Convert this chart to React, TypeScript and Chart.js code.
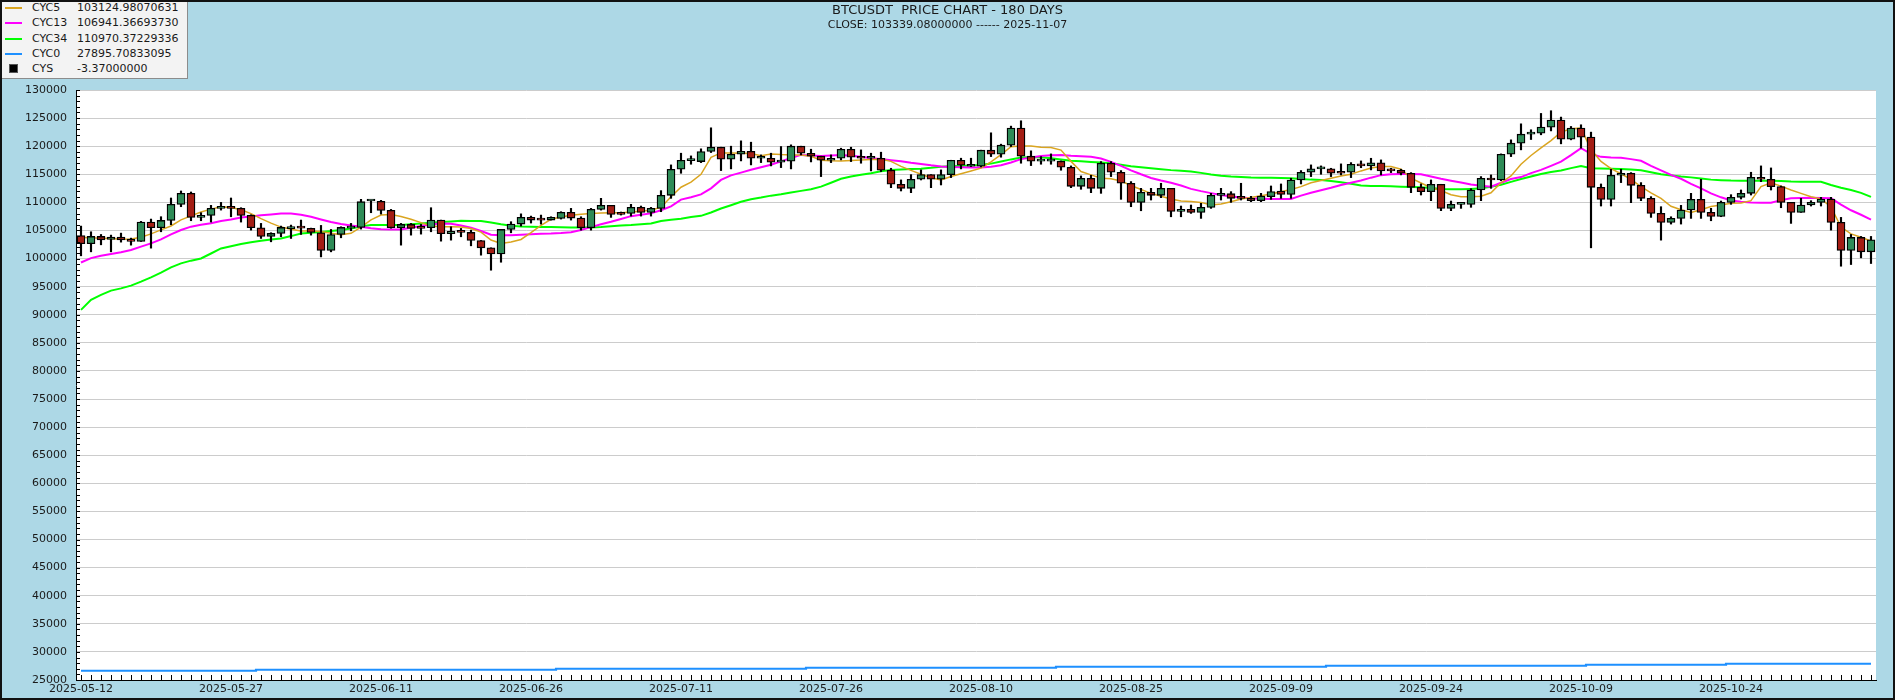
import React, { useEffect, useRef } from 'react';
import { Chart, registerables } from 'chart.js';

Chart.register(...registerables);

const TITLE = 'BTCUSDT  PRICE CHART - 180 DAYS';
const SUBTITLE = 'CLOSE: 103339.08000000 ------ 2025-11-07';

// x labels shown every LABEL_STEP days (index 0 = 2025-05-12)
const DATE_LABELS = ['2025-05-12', '2025-05-27', '2025-06-11', '2025-06-26', '2025-07-11', '2025-07-26', '2025-08-10', '2025-08-25', '2025-09-09', '2025-09-24', '2025-10-09', '2025-10-24'];
const LABEL_STEP = 15;

const Y_MIN = 25000;
const Y_MAX = 130000;
const Y_STEP = 5000;
const Y_MINOR_STEP = 1000;

const OPEN = [
  104110, 102630, 103940, 103400, 103820, 103460, 103045, 106495, 105480, 106790,
  109650, 111610, 107330, 107685, 108935, 109290, 108935, 107685, 105480, 103940,
  104470, 105300, 105720, 105370, 104590, 101440, 104290, 105430, 105540, 110250,
  110185, 108580, 105480, 106080, 105660, 105480, 106850, 104410, 104830, 104650,
  103220, 101915, 100840, 105185, 106140, 107330, 107030, 106850, 107150, 108220,
  107210, 105480, 108750, 109470, 108160, 108040, 109110, 108220, 108935, 111255,
  115895, 117420, 117265, 119050, 119820, 117680, 118570, 119100, 117860, 117860,
  117150, 117330, 120000, 118750, 118220, 117500, 117860, 119460, 118040, 117860,
  117860, 115720, 113220, 112500, 114110, 114940, 114110, 114940, 117500, 116430,
  116430, 119290, 118570, 120180, 123215, 118220, 117330, 117330, 117330, 116250,
  112860, 114290, 112500, 116970, 115360, 113400, 110000, 111790, 111255, 112500,
  108400, 108750, 108220, 109110, 111255, 111550, 110720, 110720, 110300, 111020,
  112030, 111430, 113990, 115360, 115960, 115960, 115360, 115360, 116790, 116490,
  117030, 115660, 115720, 115180, 112680, 111910, 113220, 108935, 109650, 109650,
  112210, 114290, 113990, 118570, 120540, 122140, 122320, 123390, 124640, 121250,
  123210, 121610, 112680, 110540, 114825, 115180, 113040, 110720, 108040, 106440,
  107150, 108640, 110540, 108220, 107510, 110000, 110900, 111610, 114470, 114110,
  112800, 110000, 108220, 109530, 110000, 110600, 106440, 101440, 103760, 101200,
];

const HIGH = [
  105780, 104770, 104290, 104175, 104530, 103640, 106620, 107030, 107450, 110780,
  112030, 111850, 108160, 109470, 110000, 110780, 109050, 107800, 106260, 104600,
  105780, 105960, 106850, 105420, 105900, 105185, 105660, 106260, 110540, 110300,
  110360, 108750, 106260, 106260, 106080, 109050, 106850, 105660, 105365, 105060,
  103220, 101915, 105185, 106560, 107960, 107560, 107740, 107440, 108340, 108935,
  107440, 108935, 110720, 109470, 108280, 109650, 109350, 109110, 112090, 116670,
  118750, 118270, 119530, 123270, 119820, 120000, 120950, 120710, 118450, 118750,
  119940, 120240, 120000, 119460, 118220, 118450, 119640, 119820, 119340, 118750,
  118930, 116070, 114000, 114940, 115780, 114940, 115780, 117500, 117860, 117860,
  119290, 122380, 120360, 123570, 124520, 119170, 118150, 118630, 117380, 116490,
  114710, 114830, 117260, 117260, 115660, 113700, 112500, 112500, 113400, 112500,
  109350, 109530, 109830, 111610, 112500, 111910, 113400, 111080, 111610, 112920,
  113280, 114290, 115660, 116670, 116490, 116070, 116850, 117080, 117380, 117850,
  117560, 116070, 115900, 115300, 113280, 113990, 113220, 110240, 109650, 112440,
  114590, 114890, 118630, 121130, 123980, 122920, 125830, 126310, 125180, 123510,
  123810, 122500, 113280, 115900, 115900, 115300, 113520, 111020, 109230, 107440,
  109470, 111610, 114110, 108940, 110240, 111370, 112210, 115360, 116490, 116130,
  112920, 110000, 110720, 110300, 110900, 110900, 107330, 104290, 103940, 103940,
];

const LOW = [
  100490, 101200, 102450, 101200, 102925, 102390, 103045, 101855, 104770, 106020,
  109230, 106735, 106735, 106495, 108630, 107440, 106495, 105060, 103580, 102985,
  103880, 103580, 104290, 104170, 100300, 101200, 103700, 104950, 105250, 108160,
  107920, 105400, 102390, 104170, 104350, 104770, 103100, 103280, 103880, 102270,
  100605, 97930, 99350, 104590, 105780, 106320, 106140, 106850, 107030, 106850,
  105060, 105060, 108630, 107330, 107740, 107560, 107560, 107560, 108340, 110720,
  115180, 116790, 117080, 118870, 115660, 115960, 117380, 116670, 117080, 116490,
  116190, 115960, 118450, 117200, 114590, 117080, 117560, 117260, 116970, 115600,
  115480, 112620, 112030, 111730, 113990, 112620, 113100, 114410, 115960, 116370,
  116310, 118150, 118040, 119940, 116970, 116550, 116790, 116790, 115720, 112620,
  112330, 111730, 111610, 114590, 110540, 109230, 108510, 110420, 110840, 107440,
  107440, 108040, 107150, 108935, 110420, 110000, 110420, 110120, 110120, 110540,
  110720, 110720, 113280, 114590, 115000, 114590, 114890, 114410, 116170, 115780,
  114890, 115300, 114890, 111730, 111310, 110300, 108520, 108520, 108935, 109120,
  110300, 112500, 113870, 118150, 119350, 121190, 122030, 122720, 120420, 121130,
  119640, 101915, 109350, 109350, 113520, 109950, 110300, 107330, 103280, 106140,
  106140, 107150, 107150, 106730, 107450, 109650, 110600, 111310, 113690, 112200,
  109050, 106260, 108220, 109350, 109350, 105060, 98640, 98940, 100130, 99120,
];

const CLOSE = [
  102630, 103940, 103340, 103820, 103340, 103045, 106495, 105480, 106790, 109650,
  111610, 107330, 107685, 108935, 109290, 108935, 107685, 105480, 103940, 104470,
  105540, 105700, 105420, 104650, 101440, 104290, 105540, 105720, 110125, 110300,
  108580, 105480, 106080, 105365, 105365, 106850, 104410, 104830, 104650, 103220,
  101915, 100840, 105185, 106140, 107330, 106850, 106850, 107330, 108220, 107210,
  105480, 108750, 109470, 107860, 107860, 109110, 108220, 108935, 111255, 115895,
  117500, 117560, 119050, 119820, 117680, 118570, 119100, 117860, 117900, 117150,
  117330, 120000, 118750, 118220, 117500, 117860, 119460, 118040, 117860, 117880,
  115720, 113220, 112500, 114110, 114940, 114110, 114940, 117500, 116610, 116730,
  119290, 118570, 120180, 123215, 118220, 117330, 117380, 117360, 116250, 112860,
  114290, 112500, 116970, 115360, 113400, 110000, 111790, 111255, 112500, 108400,
  108750, 108220, 109110, 111255, 111550, 110720, 110700, 110300, 111130, 111910,
  111430, 113990, 115360, 115960, 116020, 115180, 115180, 116790, 116490, 117030,
  115600, 115600, 115180, 112680, 111910, 113220, 108935, 109650, 109650, 112210,
  114290, 113990, 118570, 120540, 122140, 122320, 123390, 124640, 121250, 123210,
  121610, 112680, 110540, 114825, 115180, 113040, 110720, 108040, 106440, 107150,
  108640, 110540, 108220, 107510, 110000, 110900, 111610, 114470, 114110, 112800,
  110000, 108220, 109530, 110000, 110600, 106440, 101440, 103760, 101200, 103339,
];

const CYC5 = [
  103760, 103700, 103620, 103550, 103450, 103500, 103800, 104400, 105100, 105800,
  106900, 107600, 108300, 108800, 109200, 109100, 108700, 108000, 107100, 106300,
  105600, 105200, 104900, 104890, 104800, 104500, 104250, 104500, 105600, 106900,
  107740, 107860, 107500, 107000, 106400, 105800, 105660, 105660, 105600, 105360,
  104700, 103300, 102680, 102950, 103400, 104600, 105900, 107000, 107400, 107700,
  107900, 108040, 108120, 108160, 108160, 108300, 108400, 108630, 109100, 111000,
  112700, 113600, 115000, 118000, 118800, 118800, 118750, 118700, 118300, 118600,
  118500, 118450, 118450, 118200, 117500, 117400, 117380, 117450, 117550, 117650,
  117680, 117300, 116400, 115700, 115000, 114400, 114000, 114590, 115100, 115600,
  116100, 117200, 118500, 119900, 120050, 120050, 119800, 119760, 119300, 117300,
  115500, 114900, 114300, 114200, 113800, 113000, 112300, 111600, 111100, 110600,
  110250, 110150, 110000, 109550, 109700, 110100, 110600, 110850, 111200, 111490,
  111900, 112300, 112800, 113500, 113900, 114300, 114700, 115000, 115600, 116100,
  116370, 116370, 115900, 114300, 113450, 112600, 112100, 111350, 111020, 111020,
  111100, 111700, 113500, 114700, 116800, 118350, 119700, 121000, 122500, 123100,
  123210, 119400, 117300, 116000, 115100, 114100, 112800, 111700, 110700, 109300,
  108700, 108200, 108700, 109250, 109550, 109830, 109900, 110300, 112800, 113500,
  112900, 112200, 111600, 111000, 110600, 109200, 105600, 104400, 103800, 103125,
];

const CYC13 = [
  99300, 100080, 100500, 100820, 101110, 101520, 102120, 102710, 103420, 104310,
  105090, 105680, 106000, 106300, 106700, 106950, 107300, 107500, 107700, 107850,
  108000, 108000, 107800, 107440, 106950, 106500, 106140, 105900, 105660, 105400,
  105200, 105180, 105180, 105500, 105800, 106100, 106260, 106200, 105900, 105500,
  104900, 104250, 104170, 104170, 104250, 104330, 104400, 104450, 104550, 104700,
  105100, 105600, 106100, 106550, 107050, 107550, 107800, 108040, 108600, 109300,
  110500, 110900, 111430, 112500, 114000, 114800, 115300, 115800, 116250, 116700,
  117300, 117900, 118450, 118350, 118270, 118350, 118450, 118300, 118100, 117850,
  117700, 117500, 117300, 117050, 116850, 116600, 116400, 116300, 116250, 116220,
  116190, 116350, 116600, 117100, 117700, 118000, 118270, 118400, 118450, 118300,
  118200, 118100, 117800, 117200, 116500, 115700, 115000, 114350, 113900, 113500,
  113000, 112400, 112000, 111650, 111300, 111050, 110850, 110720, 110650, 110600,
  110600, 110600, 111200, 111700, 112150, 112600, 113100, 113500, 113900, 114400,
  114850, 115000, 115060, 115050, 115000, 114600, 114200, 113850, 113520, 113200,
  112950, 112800, 113500, 114170, 114500, 115200, 115780, 116500, 117260, 118400,
  119640, 118630, 118100, 117980, 117950, 117700, 117400, 116500, 115700, 114900,
  114200, 113300, 112500, 111600, 110900, 110350, 110100, 109960, 109950, 109950,
  110400, 110750, 110800, 110840, 110800, 110720, 109600, 108600, 107800, 106941,
];

const CYC34 = [
  90870, 92660, 93540, 94300, 94700, 95180, 95890, 96660, 97490, 98440,
  99150, 99630, 100010, 100900, 101800, 102200, 102600, 102900, 103160, 103400,
  103580, 104000, 104470, 104600, 104750, 104900, 105100, 105365, 105700, 105960,
  105960, 105960, 105960, 106100, 106260, 106380, 106490, 106600, 106730, 106700,
  106670, 106400, 106100, 105850, 105700, 105660, 105620, 105600, 105560, 105540,
  105540, 105540, 105600, 105750, 105880, 105960, 106100, 106260, 106700, 106900,
  107100, 107400, 107600, 108200, 108900, 109500, 110100, 110550, 110850, 111200,
  111450, 111750, 112050, 112350, 112800, 113500, 114200, 114600, 114900, 115200,
  115550, 115750, 115870, 115950, 116000, 116150, 116350, 116420, 116490, 116580,
  116670, 116900, 117260, 117650, 117980, 118020, 118040, 117850, 117650, 117420,
  117300, 117200, 117100, 116980, 116700, 116450, 116250, 116080, 115900, 115740,
  115620, 115500, 115250, 114950, 114750, 114600, 114500, 114420, 114400, 114380,
  114350, 114290, 114150, 114050, 113990, 113800, 113600, 113300, 113000, 112920,
  112920, 112880, 112800, 112740, 112680, 112550, 112400, 112350, 112330, 112400,
  112500, 112800, 113150, 113650, 114150, 114600, 115060, 115400, 115660, 116100,
  116490, 116070, 116030, 116000, 115960, 115850, 115700, 115350, 115000, 114800,
  114600, 114450, 114250, 114050, 113950, 113880, 113870, 113870, 113870, 113870,
  113800, 113700, 113690, 113690, 113660, 113100, 112600, 112200, 111700, 110970,
];

const CYC0 = [
  26650, 26650, 26650, 26650, 26650, 26650, 26650, 26650, 26650, 26650,
  26650, 26650, 26650, 26650, 26650, 26650, 26650, 26650, 26828, 26828,
  26828, 26828, 26828, 26828, 26828, 26828, 26828, 26828, 26828, 26828,
  26828, 26828, 26828, 26828, 26828, 26828, 26828, 26828, 26828, 26828,
  26828, 26828, 26828, 26828, 26828, 26828, 26828, 26828, 27006, 27006,
  27006, 27006, 27006, 27006, 27006, 27006, 27006, 27006, 27006, 27006,
  27006, 27006, 27006, 27006, 27006, 27006, 27006, 27006, 27006, 27006,
  27006, 27006, 27006, 27184, 27184, 27184, 27184, 27184, 27184, 27184,
  27184, 27184, 27184, 27184, 27184, 27184, 27184, 27184, 27184, 27184,
  27184, 27184, 27184, 27184, 27184, 27184, 27184, 27184, 27362, 27362,
  27362, 27362, 27362, 27362, 27362, 27362, 27362, 27362, 27362, 27362,
  27362, 27362, 27362, 27362, 27362, 27362, 27362, 27362, 27362, 27362,
  27362, 27362, 27362, 27362, 27362, 27540, 27540, 27540, 27540, 27540,
  27540, 27540, 27540, 27540, 27540, 27540, 27540, 27540, 27540, 27540,
  27540, 27540, 27540, 27540, 27540, 27540, 27540, 27540, 27540, 27540,
  27540, 27718, 27718, 27718, 27718, 27718, 27718, 27718, 27718, 27718,
  27718, 27718, 27718, 27718, 27718, 27896, 27896, 27896, 27896, 27896,
  27896, 27896, 27896, 27896, 27896, 27896, 27896, 27896, 27896, 27896,
];

const LEGEND_NAMES = ['CYC5', 'CYC13', 'CYC34', 'CYC0', 'CYS'];
const LEGEND_VALUES = ['103124.98070631', '106941.36693730', '110970.37229336', '27895.70833095', '-3.37000000'];

const COLORS = {
  bg: '#add8e6',
  cyc5: '#daa520',
  cyc13: '#ff00ff',
  cyc34: '#00ff00',
  cyc0: '#1e90ff',
  up: '#2e8b57',
  down: '#a31d14',
  grid: '#cccccc',
  text: '#1a1a1a',
};
const LEGEND_COLORS = [COLORS.cyc5, COLORS.cyc13, COLORS.cyc34, COLORS.cyc0, '#000000'];

const FONT = 'DejaVu Sans';

export default function App() {
  const ref = useRef<HTMLCanvasElement>(null);

  useEffect(() => {
    document.body.style.margin = '0';
    const idx = OPEN.map((_, i) => i);
    const toPts = (arr: number[]) => idx.map((i) => ({ x: i, y: arr[i] }));

    const bgPlugin = {
      id: 'bgPlugin',
      beforeDraw(chart: any) {
        const { ctx, chartArea } = chart;
        ctx.save();
        ctx.fillStyle = COLORS.bg;
        ctx.fillRect(0, 0, chart.width, chart.height);
        ctx.fillStyle = '#ffffff';
        ctx.fillRect(chartArea.left, chartArea.top, chartArea.right - chartArea.left, chartArea.bottom - chartArea.top);
        ctx.restore();
      },
      afterDraw(chart: any) {
        const { ctx, chartArea, scales } = chart;
        ctx.save();
        ctx.strokeStyle = '#000000';
        ctx.lineWidth = 1;
        ctx.beginPath();
        for (const i of idx) {
          const x = Math.round(scales.x.getPixelForValue(i)) + 0.5;
          ctx.moveTo(x, chartArea.bottom);
          ctx.lineTo(x, chartArea.bottom - 5);
        }
        for (let v = Y_MIN; v <= Y_MAX; v += Y_MINOR_STEP) {
          const y = Math.round(scales.y.getPixelForValue(v)) + 0.5;
          ctx.moveTo(chartArea.left, y);
          ctx.lineTo(chartArea.left + 4, y);
        }
        ctx.stroke();
        ctx.restore();
      },
    };

    const chart = new Chart(ref.current as HTMLCanvasElement, {
      type: 'bar',
      data: {
        datasets: [
          {
            type: 'line',
            label: 'CYC0',
            data: toPts(CYC0),
            borderColor: COLORS.cyc0,
            borderWidth: 2.2,
            pointRadius: 0,
            stepped: 'middle',
            order: 5,
          } as any,
          {
            type: 'line',
            label: 'CYC34',
            data: toPts(CYC34),
            borderColor: COLORS.cyc34,
            borderWidth: 2,
            pointRadius: 0,
            order: 4,
          } as any,
          {
            type: 'line',
            label: 'CYC13',
            data: toPts(CYC13),
            borderColor: COLORS.cyc13,
            borderWidth: 2,
            pointRadius: 0,
            order: 3,
          } as any,
          {
            type: 'line',
            label: 'CYC5',
            data: toPts(CYC5),
            borderColor: COLORS.cyc5,
            borderWidth: 1.5,
            pointRadius: 0,
            order: 2,
          } as any,
          {
            type: 'bar',
            label: 'wick',
            data: idx.map((i) => ({ x: i, y: [LOW[i], HIGH[i]] })),
            backgroundColor: '#000000',
            barThickness: 1.5,
            grouped: false,
            order: 1,
          } as any,
          {
            type: 'bar',
            label: 'body',
            data: idx.map((i) => ({ x: i, y: [OPEN[i], CLOSE[i]] })),
            backgroundColor: idx.map((i) => (CLOSE[i] >= OPEN[i] ? COLORS.up : COLORS.down)),
            borderColor: '#000000',
            borderWidth: 1.3,
            borderSkipped: false,
            barThickness: 8,
            minBarLength: 2,
            grouped: false,
            order: 0,
          } as any,
        ],
      },
      options: {
        animation: false,
        responsive: false,
        maintainAspectRatio: false,
        events: [],
        layout: { padding: { top: 90, right: 19, left: 0, bottom: 0 } },
        plugins: {
          legend: { display: false },
          tooltip: { enabled: false },
          title: { display: false },
        },
        scales: {
          x: {
            type: 'linear',
            min: -0.5,
            max: 179.5,
            offset: false,
            afterBuildTicks: (s: any) => {
              s.ticks = DATE_LABELS.map((_, k) => ({ value: k * LABEL_STEP }));
            },
            afterFit: (s: any) => {
              s.height = 20;
            },
            ticks: {
              autoSkip: false,
              maxRotation: 0,
              minRotation: 0,
              padding: 3,
              color: COLORS.text,
              font: { family: FONT, size: 11 },
              callback: (v: any) => DATE_LABELS[Math.round(Number(v) / LABEL_STEP)] ?? '',
            },
            grid: { drawOnChartArea: false, drawTicks: false, offset: false },
            border: { display: true, color: '#000000', width: 1 },
          },
          y: {
            type: 'linear',
            min: Y_MIN,
            max: Y_MAX,
            afterFit: (s: any) => {
              s.width = 76;
            },
            ticks: {
              stepSize: Y_STEP,
              padding: 9,
              color: COLORS.text,
              font: { family: FONT, size: 11 },
              callback: (v: any) => String(v),
            },
            grid: { color: COLORS.grid, lineWidth: 1, drawTicks: false },
            border: { display: true, color: '#000000', width: 1 },
          },
        },
      } as any,
      plugins: [bgPlugin],
    });
    return () => chart.destroy();
  }, []);

  const rowCenter = (k: number) => 7 + 15.3 * k;
  const textStyle: React.CSSProperties = {
    position: 'absolute',
    fontFamily: FONT,
    fontSize: 11,
    lineHeight: '13px',
    color: COLORS.text,
    whiteSpace: 'pre',
  };

  return (
    <div style={{ position: 'relative', width: 1895, height: 700, background: COLORS.bg, overflow: 'hidden' }}>
      <canvas ref={ref} width={1895} height={700} style={{ position: 'absolute', left: 0, top: 0, width: 1895, height: 700 }} />
      <div style={{ ...textStyle, left: 0, width: 1895, top: 2, fontSize: 13, lineHeight: '16px', textAlign: 'center' }}>{TITLE}</div>
      <div style={{ ...textStyle, left: 0, width: 1895, top: 18, fontSize: 11, lineHeight: '14px', textAlign: 'center' }}>{SUBTITLE}</div>
      <div
        style={{
          position: 'absolute',
          left: 0,
          top: 0,
          width: 188,
          height: 79,
          background: '#f3f3f3',
          border: '1px solid #8c8c8c',
          boxSizing: 'border-box',
        }}
      >
        {LEGEND_NAMES.map((name, k) => (
          <React.Fragment key={name}>
            {name === 'CYS' ? (
              <div style={{ position: 'absolute', left: 8, top: rowCenter(k) - 5, width: 9, height: 9, background: '#000', border: '1px solid #555', boxSizing: 'border-box' }} />
            ) : (
              <div style={{ position: 'absolute', left: 4, top: rowCenter(k) - 1, width: 17, height: 2, background: LEGEND_COLORS[k] }} />
            )}
            <div style={{ ...textStyle, left: 31, top: rowCenter(k) - 7 }}>{name}</div>
            <div style={{ ...textStyle, left: 76, top: rowCenter(k) - 7 }}>{LEGEND_VALUES[k]}</div>
          </React.Fragment>
        ))}
      </div>
      <div style={{ position: 'absolute', left: 0, top: 0, width: 1895, height: 700, border: '2px solid #111', boxSizing: 'border-box', pointerEvents: 'none' }} />
    </div>
  );
}
